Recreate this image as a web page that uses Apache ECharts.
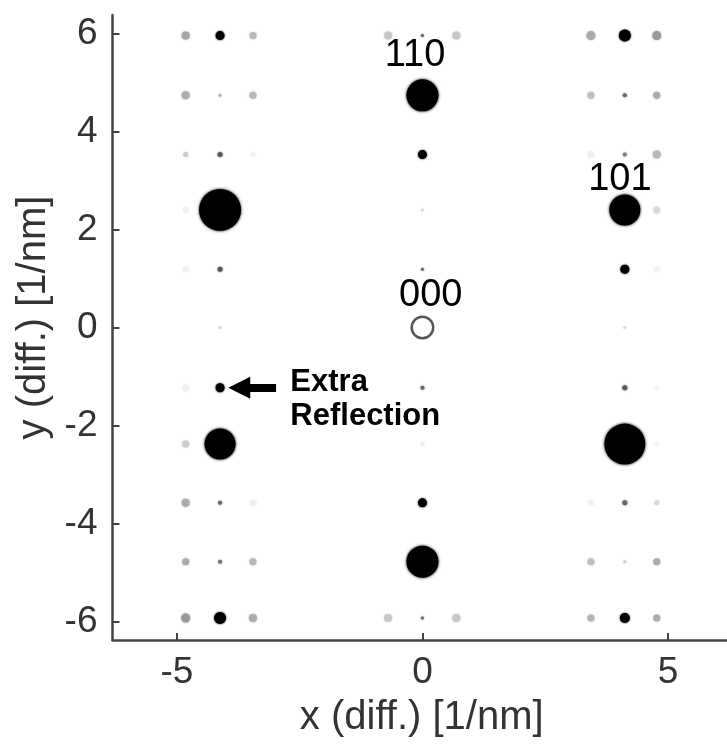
<!DOCTYPE html>
<html>
<head>
<meta charset="utf-8">
<script src="https://cdn.jsdelivr.net/npm/echarts@6/dist/echarts.min.js"></script>
<style>
html,body{margin:0;padding:0;background:#fff;}
#chart{width:727px;height:751px;}
</style>
</head>
<body>
<div id="chart"></div>
<script>
// Diffraction spots: position (1/nm), spot diameter, darkness (0 white .. 1 black)
const spotX = [
  -4.82,-4.82,-4.82,-4.82,-4.82,-4.82,-4.82,-4.82,-4.82,-4.82,
  -4.12,-4.12,-4.12,-4.12,-4.12,-4.12,-4.12,-4.12,-4.12,-4.12,-4.12,
  -3.45,-3.45,-3.45,-3.45,-3.45,-3.45,
  -0.70,-0.70,
  0,0,0,0,0,0,0,0,0,0,
  0.69,0.69,
  3.43,3.43,3.43,3.43,3.43,3.43,
  4.12,4.12,4.12,4.12,4.12,4.12,4.12,4.12,4.12,4.12,4.12,
  4.77,4.77,4.77,4.77,4.77,4.77,4.77,4.77,4.77,4.77
];
const spotY = [
  5.96,4.74,3.53,2.40,1.19,-1.23,-2.38,-3.58,-4.78,-5.93,
  5.96,4.74,3.53,2.40,1.19,0,-1.23,-2.38,-3.58,-4.78,-5.93,
  5.96,4.74,3.53,-3.58,-4.78,-5.93,
  5.96,-5.93,
  5.96,4.74,3.53,2.40,1.19,-1.23,-2.38,-3.58,-4.78,-5.93,
  5.96,-5.93,
  5.96,4.74,3.53,-3.58,-4.78,-5.93,
  5.96,4.74,3.53,2.40,1.19,0,-1.23,-2.38,-3.58,-4.78,-5.93,
  5.96,4.74,3.53,2.40,1.19,-1.23,-2.38,-3.58,-4.78,-5.93
];
const spotSize = [
  8,8,5,6,6,7,7,8,7,9,
  9,3,5,42,5,3,9,31,4,4,12,
  7,7,5,7,7,8,
  8,8,
  3,32,9,3,3,4,4,9,32,3,
  8,8,
  9,7,7,6,7,7,
  12,4,4,31,9,3,5,41,5,3,10,
  9,7,8,7,6,5,5,5,7,7
];
const spotDark = [
  0.35,0.33,0.20,0.06,0.06,0.06,0.20,0.33,0.33,0.40,
  1.00,0.30,0.65,1.00,0.65,0.15,1.00,1.00,0.60,0.55,1.00,
  0.28,0.28,0.06,0.06,0.28,0.33,
  0.22,0.22,
  0.60,1.00,1.00,0.15,0.60,0.60,0.08,1.00,1.00,0.60,
  0.22,0.22,
  0.33,0.25,0.06,0.06,0.25,0.30,
  1.00,0.60,0.50,1.00,1.00,0.15,0.65,1.00,0.60,0.20,1.00,
  0.40,0.33,0.28,0.15,0.05,0.04,0.04,0.15,0.33,0.33
];
// transmitted beam (hollow)
const beamX = [0];
const beamY = [0];

// Miller-index labels
const annotText = ['110','101','000'];
const annotX = [-0.15, 4.02, 0.17];
const annotY = [5.56, 3.03, 0.66];

// Extra reflection annotation
const extraText = 'Extra\nReflection';
const extraPos = [-2.70, -1.46];
const arrowFrom = [-2.98, -1.23];
const arrowTo = [-3.73, -1.23];

const xTicks = [-5, 0, 5];
const yTicks = [-6, -4, -2, 0, 2, 4, 6];

function grayOf(d){
  const g = Math.round(255 * (1 - d));
  return 'rgb(' + g + ',' + g + ',' + g + ')';
}

const spotData = spotX.map(function(x, i){
  const c = grayOf(spotDark[i]);
  return {
    value: [x, spotY[i]],
    symbolSize: spotSize[i],
    itemStyle: { color: c, opacity: 1, shadowBlur: spotSize[i] > 20 ? 3 : 2, shadowColor: c }
  };
});

const FONT = '"Liberation Sans", Arial, Helvetica, sans-serif';

const chart = echarts.init(document.getElementById('chart'), null, {renderer: 'canvas'});
chart.setOption({
  animation: false,
  backgroundColor: '#fff',
  grid: { left: 112.5, top: 15, right: 0, bottom: 111, containLabel: false },
  xAxis: {
    type: 'value', min: -6.31, max: 6.20,
    name: 'x (diff.) [1/nm]', nameLocation: 'middle', nameGap: 58,
    nameTextStyle: { fontFamily: FONT, fontSize: 40, color: '#333', padding: [0, 0, 0, 4] },
    axisLine: { show: true, onZero: false, lineStyle: { color: '#444', width: 2.5 } },
    axisTick: { show: true, inside: true, length: 7, customValues: xTicks, lineStyle: { color: '#444', width: 2 } },
    axisLabel: { customValues: xTicks, fontFamily: FONT, fontSize: 37, color: '#333', margin: 14 },
    splitLine: { show: false }
  },
  yAxis: {
    type: 'value', min: -6.38, max: 6.38,
    name: 'y (diff.) [1/nm]', nameLocation: 'middle', nameGap: 56, nameRotate: 90,
    nameTextStyle: { fontFamily: FONT, fontSize: 40, color: '#333', padding: [0, 0, 0, 20] },
    axisLine: { show: true, onZero: false, lineStyle: { color: '#444', width: 2.5 } },
    axisTick: { show: true, inside: true, length: 7, customValues: yTicks, lineStyle: { color: '#444', width: 2 } },
    axisLabel: { customValues: yTicks, fontFamily: FONT, fontSize: 37, color: '#333', margin: 15 },
    splitLine: { show: false }
  },
  series: [
    {
      name: 'spots', type: 'scatter', symbol: 'circle', silent: true,
      itemStyle: { opacity: 1 },
      data: spotData
    },
    {
      name: 'beam', type: 'scatter', symbol: 'circle', symbolSize: 21.5, silent: true,
      itemStyle: { color: '#fff', borderColor: '#555', borderWidth: 2.5, opacity: 1 },
      data: beamX.map(function(x, i){ return [x, beamY[i]]; })
    },
    {
      name: 'labels', type: 'scatter', symbolSize: 1, silent: true,
      itemStyle: { color: 'transparent', opacity: 1 },
      label: { show: true, position: 'inside', fontFamily: FONT, fontSize: 38, color: '#000',
               formatter: function(p){ return annotText[p.dataIndex]; } },
      data: annotX.map(function(x, i){ return [x, annotY[i]]; })
    },
    {
      name: 'extra', type: 'scatter', symbolSize: 1, silent: true,
      itemStyle: { color: 'transparent', opacity: 1 },
      label: { show: true, position: 'right', distance: 0, align: 'left', fontFamily: FONT,
               fontSize: 31, fontWeight: 'bold', color: '#000', lineHeight: 34,
               formatter: function(){ return extraText; } },
      data: [extraPos],
      markLine: {
        silent: true, animation: false,
        symbol: ['none', 'triangle'], symbolSize: [22, 22],
        label: { show: false },
        lineStyle: { color: '#000', width: 8, type: 'solid', opacity: 1 },
        itemStyle: { color: '#000' },
        data: [[ { coord: arrowFrom }, { coord: arrowTo } ]]
      }
    }
  ]
});
</script>
</body>
</html>
